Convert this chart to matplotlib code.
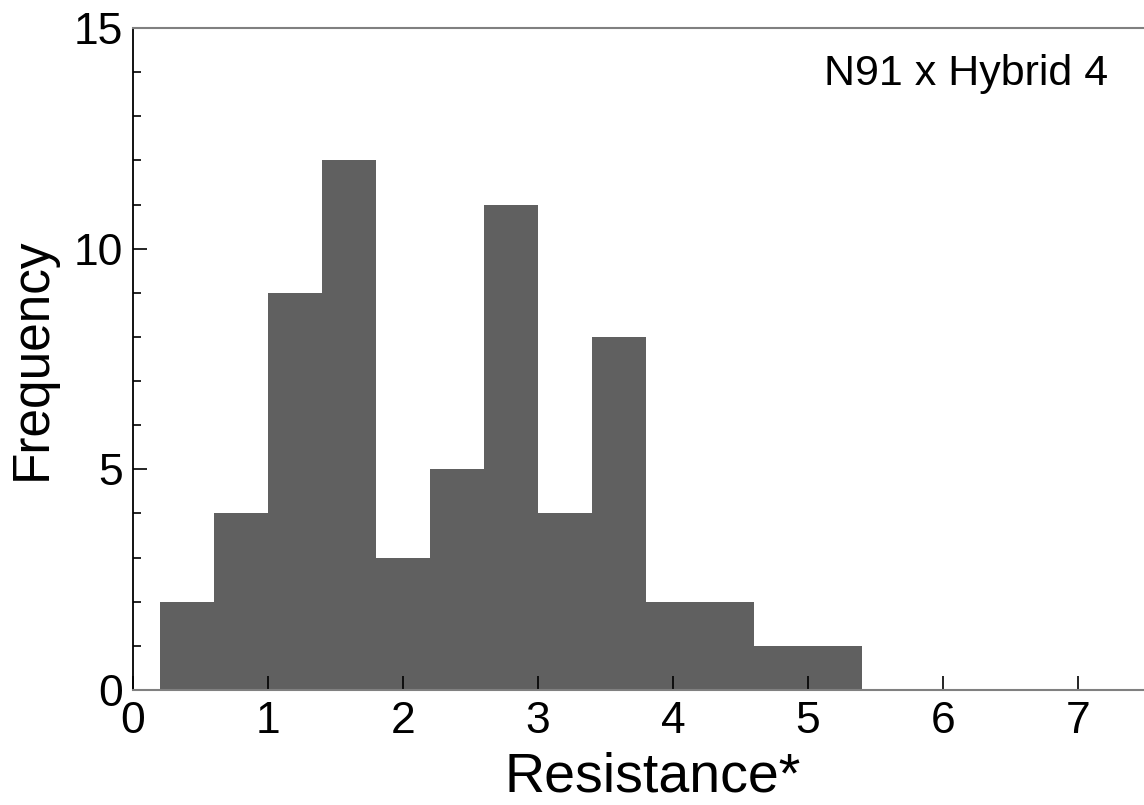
import matplotlib
matplotlib.use("Agg")
import matplotlib.pyplot as plt
import numpy as np

# Histogram of resistance scores (bin width 0.4)
bin_left = [0.2, 0.6, 1.0, 1.4, 1.8, 2.2, 2.6, 3.0, 3.4, 3.8, 4.2, 4.6, 5.0]
counts = [2, 4, 9, 12, 3, 5, 11, 4, 8, 2, 2, 1, 1]
bin_width = 0.4

x_ticks = [0, 1, 2, 3, 4, 5, 6, 7]
y_ticks = [0, 5, 10, 15]
cross_label = "N91 x Hybrid 4"

plt.rcParams["font.family"] = ["Liberation Sans", "DejaVu Sans"]

fig = plt.figure(figsize=(11.44, 8.05), dpi=100)
ax = fig.add_axes([133 / 1144, 115 / 805, 1 - 133 / 1144, 662 / 805])

ax.bar(bin_left, counts, width=bin_width, align="edge",
       color="#606060", edgecolor="none")

ax.set_xlim(0, 7.49)
ax.set_ylim(0, 15)
ax.set_xticks(x_ticks)
ax.set_yticks(y_ticks)
ax.set_yticks(np.arange(0, 16, 1), minor=True)

ax.tick_params(axis="both", which="major", direction="in", length=10,
               width=1.2, labelsize=32, color="black")
ax.tick_params(axis="y", which="minor", direction="in", length=6,
               width=1.2, color="black")
ax.tick_params(axis="x", which="major", pad=8)
ax.tick_params(axis="y", which="major", pad=7)

ax.spines["right"].set_visible(False)
ax.spines["left"].set_color("black")
ax.spines["left"].set_linewidth(1.3)
ax.spines["top"].set_color("#808080")
ax.spines["top"].set_linewidth(1.5)
ax.spines["bottom"].set_color("#808080")
ax.spines["bottom"].set_linewidth(1.5)

ax.set_xlabel("Resistance*", fontsize=40, labelpad=7)
ax.xaxis.label.set_x(0.514)
ax.set_ylabel("Frequency", fontsize=37, labelpad=12)

ax.text(0.965, 0.93, cross_label, transform=ax.transAxes,
        ha="right", va="center", fontsize=31)

fig.savefig("out.png", dpi=100)
